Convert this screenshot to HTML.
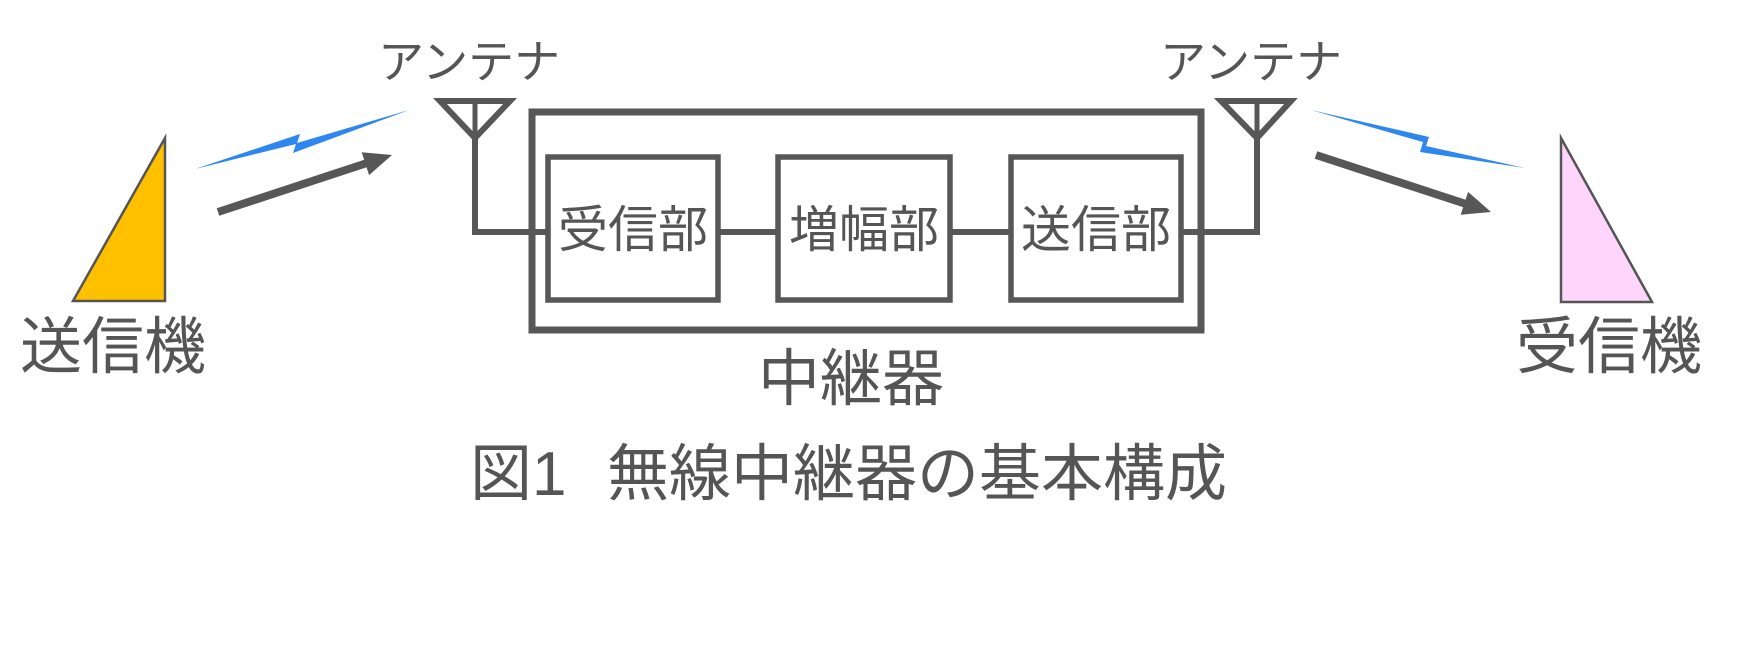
<!DOCTYPE html>
<html><head><meta charset="utf-8"><style>
html,body{margin:0;padding:0;background:#fff;}
#c{position:relative;width:1757px;height:648px;overflow:hidden;font-family:"Liberation Sans","Noto Sans CJK JP",sans-serif;color:#555;}
.t{position:absolute;white-space:nowrap;line-height:1;}
.box{position:absolute;display:flex;align-items:center;justify-content:center;font-size:50px;line-height:1;}
</style></head><body><div id="c">
<svg width="1757" height="648" style="position:absolute;left:0;top:0">
<g stroke="#575757" fill="none" stroke-linejoin="miter">
<rect x="532" y="112" width="669" height="218" stroke-width="7"/>
<rect x="548" y="157" width="170" height="143" stroke-width="5.5"/>
<rect x="778" y="157" width="172" height="143" stroke-width="5.5"/>
<rect x="1011" y="157" width="170" height="143" stroke-width="5.5"/>
<line x1="718" y1="232" x2="778" y2="232" stroke-width="6"/>
<line x1="950" y1="232" x2="1011" y2="232" stroke-width="6"/>
<polyline points="475,138 475,232 548,232" stroke-width="6"/>
<polyline points="1257,138 1257,232 1181,232" stroke-width="6"/>
<polygon points="440,101 510,101 475,138" stroke-width="6"/>
<line x1="475" y1="101" x2="475" y2="138" stroke-width="5"/>
<polygon points="1221,101 1291,101 1257,138" stroke-width="6"/>
<line x1="1257" y1="101" x2="1257" y2="138" stroke-width="5"/>
<line x1="218" y1="212" x2="367" y2="163" stroke-width="8"/>
<line x1="1316" y1="155" x2="1466" y2="204" stroke-width="8"/>
</g>
<polygon points="392,155 369.1,175.1 361.7,152.3" fill="#575757"/>
<polygon points="1491,212 1460.7,214.7 1468.1,191.9" fill="#575757"/>
<polygon points="195,169 300,134 297,143 409,110 293,153 296,144" fill="#2E86F0"/>
<polygon points="1311,110 1429,137 1426,146 1525,168 1420,152 1423,142" fill="#2E86F0"/>
<polygon points="165,138 165,301 73,301" fill="#FFC000" stroke="#555" stroke-width="2.5"/>
<polygon points="1561,138 1561,302 1652,302" fill="#FFD6FB" stroke="#555" stroke-width="2.5"/>
</svg>
<div class="t" style="left:378px;top:39px;font-size:46px;">アンテナ</div>
<div class="t" style="left:1160px;top:39px;font-size:46px;">アンテナ</div>
<div class="box" style="left:548px;top:157px;width:170px;height:146px;">受信部</div>
<div class="box" style="left:778px;top:157px;width:172px;height:146px;">増幅部</div>
<div class="box" style="left:1011px;top:157px;width:170px;height:146px;">送信部</div>
<div class="t" style="left:20px;top:317px;font-size:62px;">送信機</div>
<div class="t" style="left:1516px;top:317px;font-size:62px;">受信機</div>
<div class="t" style="left:758px;top:349px;font-size:62px;">中継器</div>
<div class="t" style="left:470px;top:444px;font-size:62px;">図1</div>
<div class="t" style="left:607px;top:444px;font-size:62px;">無線中継器の基本構成</div>
</div></body></html>
